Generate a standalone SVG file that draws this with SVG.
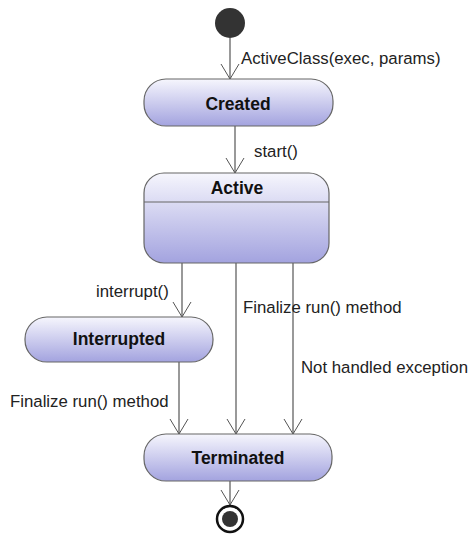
<svg xmlns="http://www.w3.org/2000/svg" width="470" height="535" viewBox="0 0 470 535">
  <defs>
    <linearGradient id="stateFill" x1="0" y1="0" x2="0" y2="1">
      <stop offset="0" stop-color="#f6f6fd"/>
      <stop offset="1" stop-color="#a3a3df"/>
    </linearGradient>
    <marker id="open" markerWidth="22" markerHeight="20" refX="16" refY="10" orient="auto" markerUnits="userSpaceOnUse">
      <path d="M1,1 L16,10 L1,19" fill="none" stroke="#555" stroke-width="1"/>
    </marker>
  </defs>
  <style>
    .state { fill: url(#stateFill); stroke: #666; stroke-width: 1.2; }
    .name { font-family: "Liberation Sans", Arial, sans-serif; font-weight: bold; font-size: 17.5px; fill: #111; text-anchor: middle; }
    .label { font-family: "Liberation Sans", Arial, sans-serif; font-size: 16.8px; fill: #222; }
    .edge { stroke: #555; stroke-width: 1.2; fill: none; marker-end: url(#open); }
  </style>

  <!-- transitions -->
  <g id="connectors">
    <line class="edge" x1="230" y1="38" x2="230" y2="79"/>
    <line class="edge" x1="235" y1="126" x2="235" y2="173"/>
    <line class="edge" x1="182" y1="263" x2="182" y2="317"/>
    <line class="edge" x1="236" y1="263" x2="236" y2="434"/>
    <line class="edge" x1="293" y1="263" x2="293" y2="434"/>
    <line class="edge" x1="179" y1="362" x2="179" y2="434"/>
    <line class="edge" x1="230" y1="481" x2="230" y2="505"/>
    <text class="label" x="241" y="64">ActiveClass(exec, params)</text>
    <text class="label" x="254" y="157">start()</text>
    <text class="label" x="96" y="297">interrupt()</text>
    <text class="label" x="243" y="313">Finalize run() method</text>
    <text class="label" x="301" y="373">Not handled exception</text>
    <text class="label" x="10" y="407">Finalize run() method</text>
  </g>

  <!-- initial pseudo-state -->
  <g id="initial">
    <circle cx="230" cy="23" r="15" fill="#333"/>
  </g>

  <g id="created">
    <rect class="state" x="144" y="79" width="189" height="47" rx="22" ry="22"/>
    <text class="name" x="238" y="110">Created</text>
  </g>

  <g id="active">
    <rect class="state" x="144" y="173" width="185" height="90" rx="20" ry="20"/>
    <line x1="144" y1="202" x2="329" y2="202" stroke="#666" stroke-width="1.2"/>
    <text class="name" x="237" y="194">Active</text>
  </g>

  <g id="interrupted">
    <rect class="state" x="25" y="317" width="188" height="45" rx="22" ry="22"/>
    <text class="name" x="119" y="345">Interrupted</text>
  </g>

  <g id="terminated">
    <rect class="state" x="144" y="434" width="188" height="47" rx="22" ry="22"/>
    <text class="name" x="238" y="464">Terminated</text>
  </g>

  <!-- final state -->
  <g id="final">
    <circle cx="230" cy="519" r="13" fill="#fff" stroke="#111" stroke-width="2.5"/>
    <circle cx="230" cy="519" r="8" fill="#333"/>
  </g>
</svg>
